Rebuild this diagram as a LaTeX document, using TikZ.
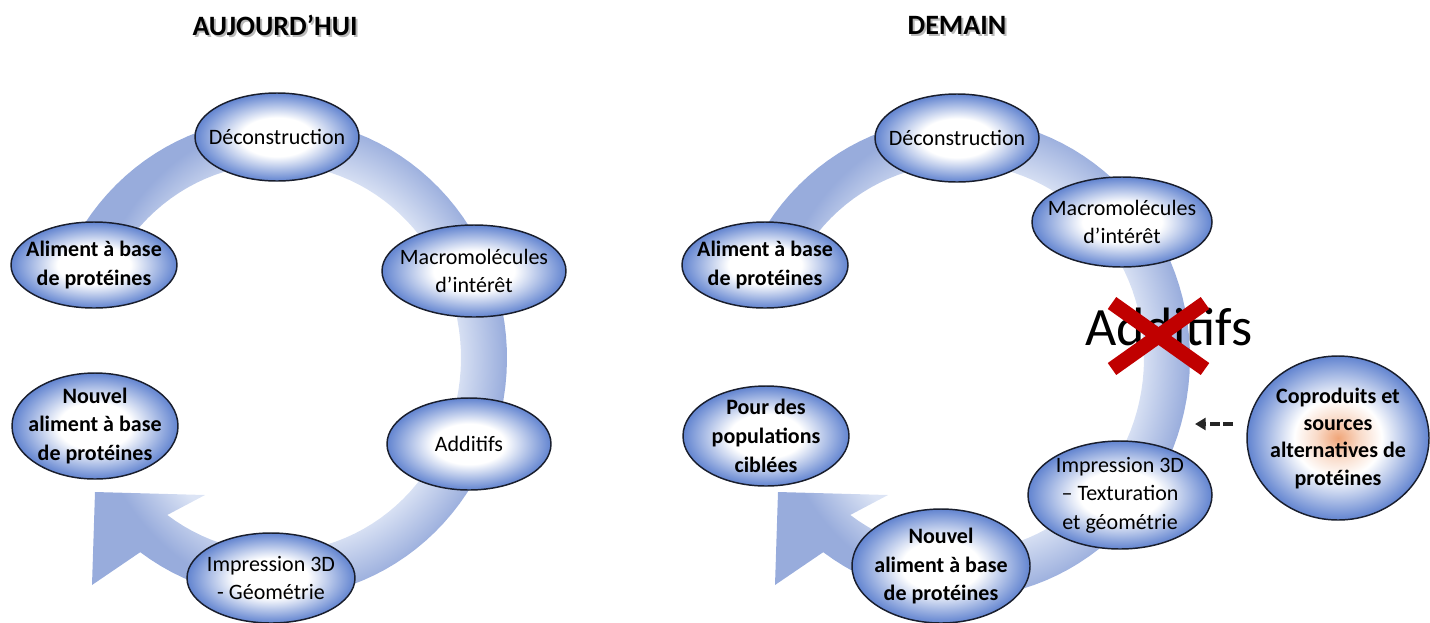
\documentclass[tikz,border=0pt]{standalone}
\usepackage{fontspec}
\setmainfont{Carlito}
\usetikzlibrary{arrows.meta,shapes.geometric}

\definecolor{edgeblue}{RGB}{98,132,208}
\definecolor{ringdark}{RGB}{152,172,220}
\definecolor{ringlight}{RGB}{220,228,245}
\definecolor{crossred}{RGB}{192,0,0}
\definecolor{outline}{RGB}{25,30,45}
\definecolor{glow}{RGB}{240,165,120}

% white core fading to blue at the rim
\pgfdeclareradialshading{bubbleshade}{\pgfpoint{0bp}{0bp}}{%
  color(0bp)=(white); color(11bp)=(white); color(25bp)=(edgeblue); color(50bp)=(edgeblue)}
% same, with a soft orange core
\pgfdeclareradialshading{glowshade}{\pgfpoint{0bp}{0bp}}{%
  color(0bp)=(glow); color(6bp)=(glow!40!white); color(12bp)=(white); color(25bp)=(edgeblue); color(50bp)=(edgeblue)}
% band of the cycle arrow: light inside, darker outside
\pgfdeclareradialshading{ringshade}{\pgfpoint{0bp}{0bp}}{%
  color(0bp)=(ringlight); color(19bp)=(ringlight); color(25bp)=(ringdark); color(50bp)=(ringdark)}

\tikzset{
  bubblebox/.style={ellipse, draw=outline, line width=1.1pt, shade, shading=bubbleshade,
                    inner sep=0pt, outer sep=0pt},
  bubbletext/.style={align=center, inner sep=0pt, text=black,
                     font=\fontsize{16.5}{21.5}\selectfont},
  boldtext/.style={bubbletext, font=\fontsize{16.5}{21.5}\selectfont\bfseries},
  titletext/.style={font=\fontsize{21}{25}\selectfont\bfseries, text=black, inner sep=0pt},
  titleshadow/.style={titletext, text=black!45, opacity=0.6},
}

% cycle arrow around a centre at x = #1
\newcommand\ringarrow[1]{%
  \path[shade, shading=ringshade]
    plot[domain=-146:126, samples=90, variable=\t] ({#1+231*cos(\t)},{358+240*sin(\t)})
    -- ({#1-184},585) -- ({#1-181},492) -- ({#1-71},495)
    -- plot[domain=126:-146, samples=90, variable=\t] ({#1+185*cos(\t)},{358+194*sin(\t)})
    -- cycle;}

% \stage[extra style]{name}{x}{y}{x radius}{y radius}: an empty shaded ellipse
\newcommand\stage[6][]{%
  \node[bubblebox, #1, minimum width={1.5pt*#5}, minimum height={1.5pt*#6}] (#2) at (#3,#4) {};}

\begin{document}
\begin{tikzpicture}[x=0.75pt, y=-0.75pt]
\useasboundingbox (0,0) rectangle (1430,622);

% ---------- titles ----------
\node[titleshadow] (titleLs) at (277,27) {AUJOURD’HUI};
\node[titletext]   (titleL)  at (275,25) {AUJOURD’HUI};
\node[titleshadow] (titleRs) at (959,27) {DEMAIN};
\node[titletext]   (titleR)  at (957,25) {DEMAIN};

% ---------- cycle arrows ----------
\ringarrow{276}
\ringarrow{959}

% ---------- today ----------
\stage{decL}{277}{137}{82}{44}
\node[bubbletext] (decL-t) at (decL) {Déconstruction};
\stage{alimL}{94}{265}{83}{43}
\node[boldtext] (alimL-t) at (alimL) {Aliment à base\\de protéines};
\stage{macroL}{474}{271}{92}{46}
\node[bubbletext] (macroL-t) at (macroL) {Macromolécules\\d’intérêt};
\stage{addL}{469}{444}{82}{46}
\node[bubbletext] (addL-t) at (addL) {Additifs};
\stage{impL}{271}{578}{84}{45}
\node[bubbletext] (impL-t) at (impL) {Impression 3D\\- Géométrie};
\stage{nouvL}{95}{426}{83}{53}
\node[boldtext] (nouvL-t) at (nouvL) {Nouvel\\aliment à base\\de protéines};

% ---------- tomorrow ----------
\stage{decR}{957}{138}{82}{44}
\node[bubbletext] (decR-t) at (decR) {Déconstruction};
\stage{alimR}{765}{265}{83}{43}
\node[boldtext] (alimR-t) at (alimR) {Aliment à base\\de protéines};
\stage{macroR}{1122}{222}{90}{45}
\node[bubbletext] (macroR-t) at (macroR) {Macromolécules\\d’intérêt};

% additives removed
\node[font=\fontsize{40.5}{48}\selectfont, anchor=base, inner sep=0pt] (addR) at (1169,345) {Additifs};
\draw[crossred, line width=11pt] (1112,303) -- (1205,369);
\draw[crossred, line width=11pt] (1205,303) -- (1112,369);

\stage{impR}{1120}{495}{92}{54}
\node[bubbletext] (impR-t) at (impR) {Impression 3D\\– Texturation\\et géométrie};
\stage{nouvR}{941}{566}{89}{57}
\node[boldtext] (nouvR-t) at (nouvR) {Nouvel\\aliment à base\\de protéines};
\stage{pourR}{766}{436}{83}{50}
\node[boldtext] (pourR-t) at (pourR) {Pour des\\populations\\ciblées};
\stage[shading=glowshade]{coprod}{1338}{438}{91}{82}
\node[boldtext, font=\fontsize{16.5}{20.5}\selectfont\bfseries] (coprod-t) at (coprod) {Coproduits et\\sources\\alternatives de\\protéines};

% new protein sources feed the printing step
\coordinate (feedtail) at (1233,424);
\coordinate (feedhead) at (1195,424);
\draw[black!85, line width=2.5pt, dash pattern=on 7.5pt off 2.5pt,
      -{Triangle[length=8pt,width=9pt]}] (feedtail) -- (feedhead);

\end{tikzpicture}
\end{document}
